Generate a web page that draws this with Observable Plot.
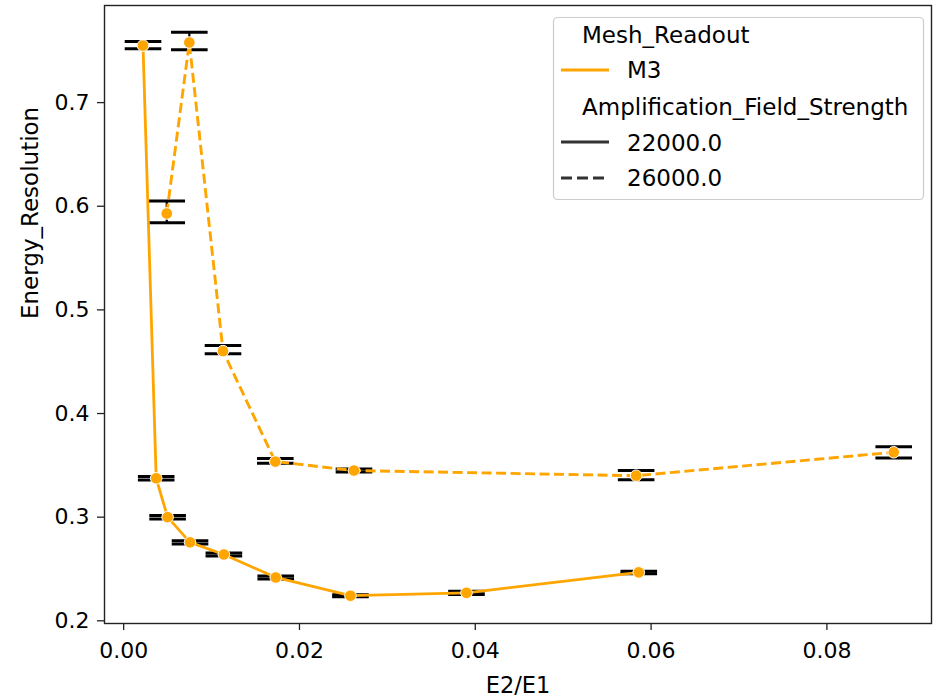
<!DOCTYPE html>
<html><head><meta charset="utf-8">
<script src="https://cdn.jsdelivr.net/npm/d3@7"></script>
<script src="https://cdn.jsdelivr.net/npm/@observablehq/plot@0.6"></script>
<style>
body{margin:0;background:#fff;}
#wrap{position:relative;width:936px;height:696px;font-family:"DejaVu Sans",sans-serif;}
#legend{position:absolute;left:0;top:0;pointer-events:none;}
</style></head><body><div id="wrap"></div>
<script>
// ---- data ----
const meshReadout = "M3";
const fieldStrengths = ["22000.0", "26000.0"];

const e2e1_22000 = [0.0022, 0.0037, 0.0050, 0.00755, 0.0114, 0.0173, 0.0258, 0.0390, 0.0586];
const res_22000  = [0.755, 0.3375, 0.300, 0.2757, 0.264, 0.2418, 0.2242, 0.227, 0.2467];
const lo_22000   = [0.752, 0.3358, 0.2983, 0.2742, 0.2625, 0.2403, 0.2232, 0.2255, 0.2455];
const hi_22000   = [0.759, 0.3392, 0.3017, 0.2772, 0.2655, 0.2433, 0.2252, 0.2285, 0.2479];

const e2e1_26000 = [0.0049, 0.00747, 0.0113, 0.01725, 0.0262, 0.0583, 0.0876];
const res_26000  = [0.593, 0.758, 0.4602, 0.3536, 0.345, 0.340, 0.3626];
const lo_26000   = [0.584, 0.751, 0.4577, 0.352, 0.3435, 0.336, 0.357];
const hi_26000   = [0.605, 0.768, 0.4657, 0.3565, 0.3465, 0.345, 0.368];

const xTicks = [0, 0.02, 0.04, 0.06, 0.08];
const yTicks = [0.2, 0.3, 0.4, 0.5, 0.6, 0.7];

const xLabel = "E2/E1";
const yLabel = "Energy_Resolution";
const legendTitle1 = "Mesh_Readout";
const legendTitle2 = "Amplification_Field_Strength";

// ---- build table ----
function rows(xs, ys, lo, hi, field) {
  return xs.map((x, i) => ({x, y: ys[i], lo: lo[i], hi: hi[i], field, mesh: meshReadout}));
}
const data = [
  ...rows(e2e1_22000, res_22000, lo_22000, hi_22000, fieldStrengths[0]),
  ...rows(e2e1_26000, res_26000, lo_26000, hi_26000, fieldStrengths[1])
];
const solid = data.filter(d => d.field === fieldStrengths[0]);
const dashed = data.filter(d => d.field === fieldStrengths[1]);

const ORANGE = "#ffa500";
const capSymbol = {draw(ctx) { ctx.moveTo(-18.3, 0); ctx.lineTo(18.3, 0); }};

const chart = Plot.plot({
  width: 936, height: 696,
  marginLeft: 104, marginRight: 5, marginTop: 5, marginBottom: 73,
  style: {fontFamily: "DejaVu Sans", fontSize: "22px", color: "#000", background: "#fff"},
  x: {domain: [-0.00218, 0.0919]},
  y: {domain: [0.1974, 0.7937]},
  marks: [
    Plot.ruleX(data, {x: "x", y1: "lo", y2: "hi", stroke: "#000", strokeWidth: 2.2}),
    Plot.dot(data, {x: "x", y: "lo", symbol: capSymbol, r: 5, stroke: "#000", strokeWidth: 3, fill: "none"}),
    Plot.dot(data, {x: "x", y: "hi", symbol: capSymbol, r: 5, stroke: "#000", strokeWidth: 3, fill: "none"}),
    Plot.line(solid, {x: "x", y: "y", stroke: ORANGE, strokeWidth: 2.8}),
    Plot.line(dashed, {x: "x", y: "y", stroke: ORANGE, strokeWidth: 2.9, strokeDasharray: "10,4.5", strokeLinecap: "butt"}),
    Plot.dot(data, {x: "x", y: "y", r: 5.8, fill: ORANGE, stroke: "#fff", strokeWidth: 1}),
    Plot.frame({stroke: "#222", strokeWidth: 1.4}),
    Plot.axisX({ticks: xTicks, tickFormat: d3.format(".2f"), tickSize: 7, tickPadding: 12, label: null, stroke: "#222", strokeWidth: 1.3}),
    Plot.axisY({ticks: yTicks, tickFormat: d3.format(".1f"), tickSize: 7, tickPadding: 8, label: null, stroke: "#222", strokeWidth: 1.3}),
    Plot.text([xLabel], {text: d => d, frameAnchor: "bottom", lineAnchor: "bottom", dy: 69, fill: "#000", fontSize: 22.5}),
    Plot.text([yLabel], {text: d => d, frameAnchor: "left", rotate: -90, lineAnchor: "bottom", dx: -67, dy: 4.5, fill: "#000", fontSize: 23})
  ]
});
const wrap = document.getElementById("wrap");
wrap.appendChild(chart);

// ---- legend overlay ----
const svg = d3.select(wrap).append("svg").attr("id", "legend")
  .attr("width", 936).attr("height", 696)
  .style("font-family", "DejaVu Sans").style("font-size", "23px");
svg.append("rect").attr("x", 553.5).attr("y", 17.5).attr("width", 370).attr("height", 182)
  .attr("rx", 4).attr("fill", "rgba(255,255,255,0.8)").attr("stroke", "#cccccc").attr("stroke-width", 1.2);
const items = [
  {label: legendTitle1, tx: 582, ty: 43},
  {label: meshReadout, tx: 627, ty: 78, hy: 70, color: ORANGE},
  {label: legendTitle2, tx: 582, ty: 115},
  {label: fieldStrengths[0], tx: 627, ty: 151, hy: 142, color: "#333"},
  {label: fieldStrengths[1], tx: 627, ty: 186, hy: 178, color: "#333", dash: "11,5"}
];
for (const it of items) {
  if (it.hy != null) {
    svg.append("line").attr("x1", 561).attr("x2", 609).attr("y1", it.hy).attr("y2", it.hy)
      .attr("stroke", it.color).attr("stroke-width", 2.8).attr("stroke-dasharray", it.dash || null);
  }
  svg.append("text").attr("x", it.tx).attr("y", it.ty).attr("fill", "#000").text(it.label);
}
</script></body></html>
